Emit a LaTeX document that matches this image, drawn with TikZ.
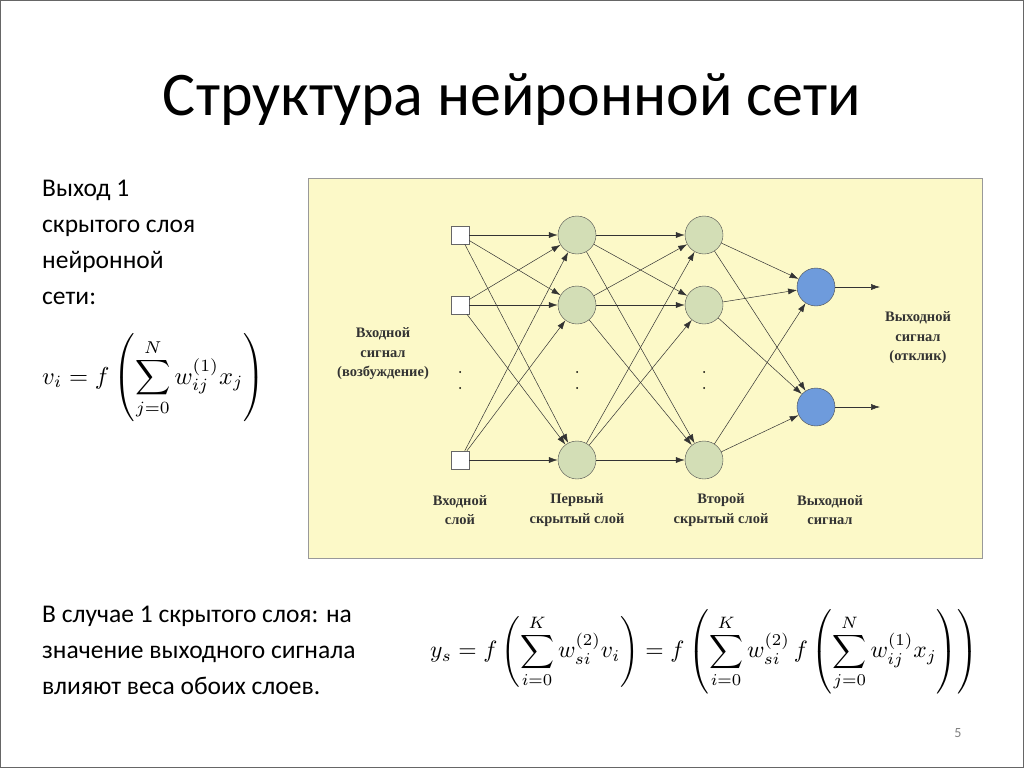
\documentclass[tikz,border=0pt]{standalone}
\usepackage{fontspec}
\setmainfont{Carlito}
\newfontfamily\lbl{Liberation Serif}
\usetikzlibrary{arrows.meta}
\definecolor{outblue}{HTML}{6E9BDC}
\definecolor{hidgreen}{HTML}{D3DEB6}
\definecolor{panel}{HTML}{FCF9C8}
\begin{document}
\begin{tikzpicture}[x=1pt,y=-1pt,
  inp/.style={draw=black!60,fill=white,minimum size=18pt,inner sep=0pt},
  hid/.style={circle,draw=black!70,fill=hidgreen,minimum size=38pt,inner sep=0pt},
  outn/.style={circle,draw=black!70,fill=outblue,minimum size=38pt,inner sep=0pt},
  con/.style={-{Latex[length=9pt,width=6pt]},black!80,line width=0.5pt},
  lab/.style={font=\lbl\bfseries\fontsize{14.5}{19.5}\selectfont,align=center,text=black!80},
  body/.style={font=\fontsize{25.5}{36}\selectfont,align=left,anchor=north west,inner sep=0pt}]
\useasboundingbox[fill=white] (0,0) rectangle (1024,768);
\draw[black!60] (0.5,0.5) rectangle (1023.5,767.5);
\node[font=\fontsize{62}{68}\selectfont] (title) at (512,100) {Структура нейронной сети};
\fill[draw=black!40,fill=panel] (308,178) rectangle (982,558);
\node[inp] (i1) at (460,235) {};
\node[inp] (i2) at (460,305) {};
\node[inp] (i3) at (460,460) {};
\node[hid] (a1) at (577,235) {};
\node[hid] (a2) at (577,305) {};
\node[hid] (a3) at (577,460) {};
\node[hid] (b1) at (704,235) {};
\node[hid] (b2) at (704,305) {};
\node[hid] (b3) at (704,460) {};
\node[outn] (o1) at (816,287) {};
\node[outn] (o2) at (816,407) {};
\coordinate (e1) at (880,287);
\coordinate (e2) at (880,407);
\foreach \s in {i1,i2,i3}{\foreach \t in {a1,a2,a3}{\draw[con] (\s) -- (\t);}}
\foreach \s in {a1,a2,a3}{\foreach \t in {b1,b2,b3}{\draw[con] (\s) -- (\t);}}
\foreach \s in {b1,b2,b3}{\foreach \t in {o1,o2}{\draw[con] (\s) -- (\t);}}
\draw[con] (o1) -- (e1);
\draw[con] (o2) -- (e2);
\foreach \x in {460,577,704}{\fill (\x,372) circle (1pt); \fill (\x,388) circle (1pt);}
\node[lab] (lin) at (383,354) {Входной\\сигнал\\(возбуждение)};
\node[lab] (lout) at (918,338) {Выходной\\сигнал\\(отклик)};
\node[lab] (l1) at (460,510) {Входной\\слой};
\node[lab] (l2) at (577,510) {Первый\\скрытый слой};
\node[lab] (l3) at (721,510) {Второй\\скрытый слой};
\node[lab] (l4) at (830,510) {Выходной\\сигнал};
\node[body] (t1) at (42,180) {Выход 1\\скрытого слоя\\нейронной\\сети:};
\node[body] (t2) at (42,606) {В случае 1 скрытого слоя: на\\значение выходного сигнала\\влияют веса обоих слоев.};
\node[anchor=west,inner sep=0pt] (f1) at (42,378)
  {\scalebox{2.45}{$\displaystyle v_i=f\left(\sum_{j=0}^{N} w_{ij}^{(1)}x_j\right)$}};
\node[anchor=west,inner sep=0pt] (f2) at (430,652)
  {\scalebox{2.36}{$\displaystyle y_s=f\left(\sum_{i=0}^{K} w_{si}^{(2)}v_i\right)=f\left(\sum_{i=0}^{K} w_{si}^{(2)}\,f\left(\sum_{j=0}^{N} w_{ij}^{(1)}x_j\right)\right)$}};
\node[font=\fontsize{14}{16}\selectfont,text=black!50] (pg) at (958,733) {5};
\end{tikzpicture}
\end{document}
